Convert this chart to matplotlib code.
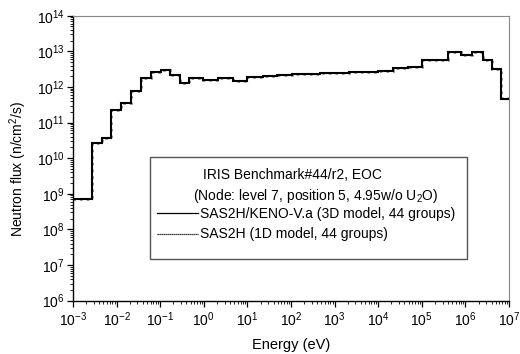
import numpy as np
import matplotlib.pyplot as plt
from matplotlib.patches import Rectangle
from matplotlib.lines import Line2D
from matplotlib.ticker import LogLocator, NullFormatter

plt.rcParams['font.family'] = ['Liberation Sans', 'DejaVu Sans']
plt.rcParams['mathtext.fontset'] = 'custom'
plt.rcParams['mathtext.rm'] = 'Liberation Sans'

# group boundaries (eV)
edges = [1e-3, 2.7e-3, 4.6e-3, 7.4e-3, 0.0126, 0.0214, 0.0363, 0.0605, 0.103,
         0.168, 0.284, 0.465, 0.975, 2.15, 4.6, 9.95, 22.5, 47, 104, 462,
         1020, 2170, 1.0e4, 2.15e4, 4.75e4, 9.96e4, 4.0e5, 7.9e5, 1.42e6,
         2.49e6, 4.0e6, 6.6e6, 1e7]

# SAS2H/KENO-V.a (3D model)
flux_3d = [7.0e8, 2.6e10, 3.6e10, 2.2e11, 3.5e11, 7.8e11, 1.75e12, 2.7e12,
           3.0e12, 2.1e12, 1.26e12, 1.8e12, 1.6e12, 1.8e12, 1.47e12, 1.9e12,
           2.0e12, 2.16e12, 2.35e12, 2.46e12, 2.5e12, 2.6e12, 2.75e12, 3.4e12,
           3.7e12, 5.8e12, 9.75e12, 8.0e12, 9.5e12, 5.7e12, 3.2e12, 4.7e11]

# SAS2H (1D model)
flux_1d = [7.0e8, 2.6e10, 3.6e10, 2.2e11, 3.5e11, 7.8e11, 1.75e12, 2.7e12,
           3.0e12, 2.1e12, 1.26e12, 1.8e12, 1.6e12, 1.82e12, 1.5e12, 1.9e12,
           2.0e12, 2.16e12, 2.35e12, 2.46e12, 2.52e12, 2.6e12, 2.75e12, 3.35e12,
           3.7e12, 5.8e12, 9.7e12, 8.0e12, 9.5e12, 5.7e12, 3.2e12, 4.8e11]

fig = plt.figure(figsize=(5.2, 3.54), dpi=100)
ax = fig.add_axes([0.1404, 0.1506, 0.8384, 0.805])

# 1D drawn first, the 3D line mostly hides it
ax.stairs(flux_1d, edges, color='#777777', lw=1.8, ls=':', baseline=None)
ax.stairs(flux_3d, edges, color='black', lw=1.5, baseline=None)

ax.set_xscale('log')
ax.set_yscale('log')
ax.set_xlim(1e-3, 1e7)
ax.set_ylim(1e6, 1e14)

ax.xaxis.set_major_locator(LogLocator(base=10, numticks=20))
ax.yaxis.set_major_locator(LogLocator(base=10, numticks=20))
ax.xaxis.set_minor_locator(LogLocator(base=10, subs=np.arange(2, 10), numticks=20))
ax.yaxis.set_minor_locator(LogLocator(base=10, subs=np.arange(2, 10), numticks=20))
ax.xaxis.set_minor_formatter(NullFormatter())
ax.yaxis.set_minor_formatter(NullFormatter())

ax.tick_params(which='both', direction='out', top=False, right=False, labelsize=10)
ax.tick_params(which='major', length=4, width=0.9)
ax.tick_params(which='minor', length=2.5, width=0.6)
ax.tick_params(axis='x', pad=3)
ax.tick_params(axis='y', pad=2)

for s in ['top', 'right']:
    ax.spines[s].set_color('#888888')
for s in ['left', 'bottom']:
    ax.spines[s].set_linewidth(1.0)

ax.set_xlabel('Energy (eV)', fontsize=10.5)
ax.set_ylabel('Neutron flux (n/cm$^2$/s)', fontsize=10)
ax.xaxis.set_label_coords(0.5, -0.13)
ax.yaxis.set_label_coords(-0.1, 0.462)

# legend box
ax.add_patch(Rectangle((0.1766, 0.1453), 0.7264, 0.36, transform=ax.transAxes,
                       fill=False, ec='#555555', lw=1.0))
ax.text(0.2975, 0.441, 'IRIS Benchmark#44/r2, EOC', transform=ax.transAxes,
        fontsize=10, va='center')
ax.text(0.2745, 0.367, '(Node: level 7, position 5, 4.95w/o U$_2$O)',
        transform=ax.transAxes, fontsize=10, va='center')
h1 = Line2D([], [], color='black', lw=0.9)
h2 = Line2D([], [], color='black', lw=0.9, ls=(0, (1, 0.6)))
ax.legend([h1, h2], ['SAS2H/KENO-V.a (3D model, 44 groups)', 'SAS2H (1D model, 44 groups)'],
          loc='upper left', bbox_to_anchor=(0.192, 0.328), frameon=False,
          fontsize=10, handlelength=3.0, handletextpad=0.15, borderpad=0,
          borderaxespad=0, labelspacing=0.45)

fig.savefig('out.png', dpi=100)
